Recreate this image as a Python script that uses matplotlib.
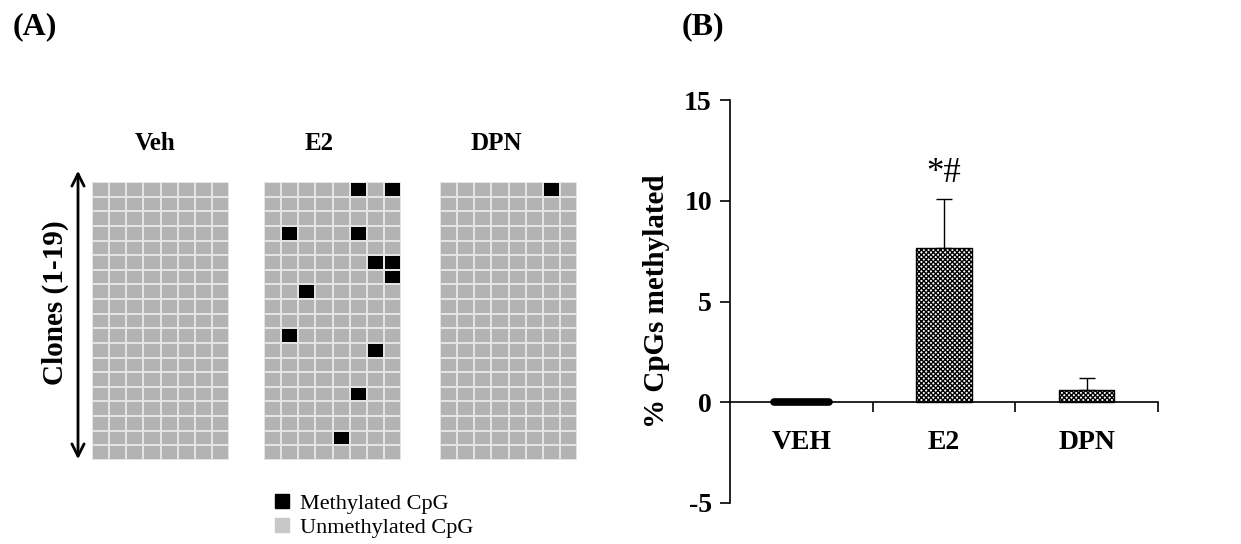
#Bisulfite clone grids (A) and % CpGs methylated bar chart (B)
import numpy as np
import matplotlib
matplotlib.use('Agg')
import matplotlib.pyplot as plt
from matplotlib.colors import ListedColormap
from matplotlib.lines import Line2D
from matplotlib.patches import FancyArrowPatch

plt.rcParams['font.family'] = ['Liberation Serif', 'DejaVu Serif']
plt.rcParams['axes.unicode_minus'] = False
plt.rcParams['hatch.linewidth'] = 1.0

#Panel A data: 19 clones x 8 CpG sites, (row, column) of methylated CpGs
n_clones = 19
n_sites = 8
grid_names = ['Veh', 'E2', 'DPN']
veh_methylated = []
e2_methylated = [(0, 5), (0, 7), (3, 1), (3, 5), (5, 6), (5, 7), (6, 7),
                 (7, 2), (10, 1), (11, 6), (14, 5), (17, 4)]
dpn_methylated = [(0, 6)]

#Panel B data
groups = ['VEH', 'E2', 'DPN']
pct_methylated = [0.0, 7.65, 0.63]
pct_error = [0.0, 2.43, 0.57]
sig_label = '*#'


def clone_matrix(methylated):
    '''Builds the clone x site matrix, 1 = methylated.'''
    mat = np.zeros((n_clones, n_sites))
    for row, col in methylated:
        mat[row, col] = 1
    return mat


fig = plt.figure(figsize=(12.41, 5.44), dpi=100)
W, H = 1241, 544

#Panel A grids
cmap = ListedColormap(['#b3b3b3', 'black'])
grid_left = [92, 264, 440]
title_x = [0.46, 0.40, 0.41]
for name, left, tx, meth in zip(grid_names, grid_left, title_x,
                                [veh_methylated, e2_methylated,
                                 dpn_methylated]):
    ax = fig.add_axes([left / W, 1 - 460 / H, 137 / W, 278 / H])
    ax.pcolormesh(clone_matrix(meth), cmap=cmap, vmin=0, vmax=1,
                  edgecolors='#e4e4e4', linewidth=1.2)
    ax.set_xlim(0, n_sites)
    ax.set_ylim(n_clones, 0)
    ax.axis('off')
    ax.text(tx, 1.14, name, transform=ax.transAxes, ha='center',
            va='center', fontsize=18, fontweight='bold')

#Clones arrow and label
arrow = FancyArrowPatch((78 / W, 1 - 462 / H), (78 / W, 1 - 168 / H),
                        transform=fig.transFigure, arrowstyle='<->',
                        mutation_scale=22, lw=2, color='black')
fig.add_artist(arrow)
fig.text(55 / W, 1 - 303 / H, 'Clones (1-19)', rotation=90, ha='center',
         va='center', fontsize=21, fontweight='bold')

#Legend
handles = [Line2D([], [], marker='s', ls='none', color='black',
                  markersize=10),
           Line2D([], [], marker='s', ls='none', color='#c8c8c8',
                  markersize=10)]
fig.legend(handles, ['Methylated CpG', 'Unmethylated CpG'],
           loc='upper left', bbox_to_anchor=(262 / W, 1 - 482 / H),
           frameon=False, fontsize=16, handlelength=0.8,
           handletextpad=0.4, labelspacing=0.15, borderpad=0)

fig.text(35 / W, 1 - 27 / H, '(A)', ha='center', va='center',
         fontsize=23, fontweight='bold')
fig.text(703 / W, 1 - 27 / H, '(B)', ha='center', va='center',
         fontsize=23, fontweight='bold')

#Panel B bar chart
axb = fig.add_axes([730 / W, 1 - 503 / H, 428 / W, 403 / H])
x = np.arange(len(groups))
axb.bar(x, pct_methylated, width=0.39, color='white', edgecolor='black',
        hatch='xxxxxxx', linewidth=1, zorder=2)
axb.bar(x[0], pct_methylated[0], width=0.39, color='black',
        edgecolor='black', linewidth=5.5, joinstyle='round',
        capstyle='round', zorder=3)
axb.errorbar(x, pct_methylated, yerr=[[0] * len(x), pct_error],
             fmt='none', ecolor='black', elinewidth=1, capsize=6,
             capthick=1, zorder=1)
axb.text(x[1], pct_methylated[1] + pct_error[1] + 0.45, sig_label,
         ha='center', va='bottom', fontsize=25)

axb.set_xlim(-0.5, 2.5)
axb.set_ylim(-5, 15)
axb.set_yticks([-5, 0, 5, 10, 15])
axb.spines['top'].set_visible(False)
axb.spines['right'].set_visible(False)
axb.spines['bottom'].set_position(('data', 0))
axb.spines['left'].set_linewidth(1.2)
axb.spines['bottom'].set_linewidth(1.2)
axb.set_xticks(x)
axb.set_xticklabels(groups, fontsize=20, fontweight='bold')
axb.set_xticks([0.5, 1.5, 2.5], minor=True)
axb.tick_params(axis='x', which='major', length=0, pad=20)
axb.tick_params(axis='x', which='minor', length=7, width=1.2,
                direction='out')
axb.tick_params(axis='y', length=7, width=1.2, pad=6, labelsize=20)
for lab in axb.get_yticklabels():
    lab.set_fontweight('bold')
axb.set_ylabel('% CpGs methylated', fontsize=21, fontweight='bold',
               labelpad=10)

fig.savefig('out.png', dpi=100)
